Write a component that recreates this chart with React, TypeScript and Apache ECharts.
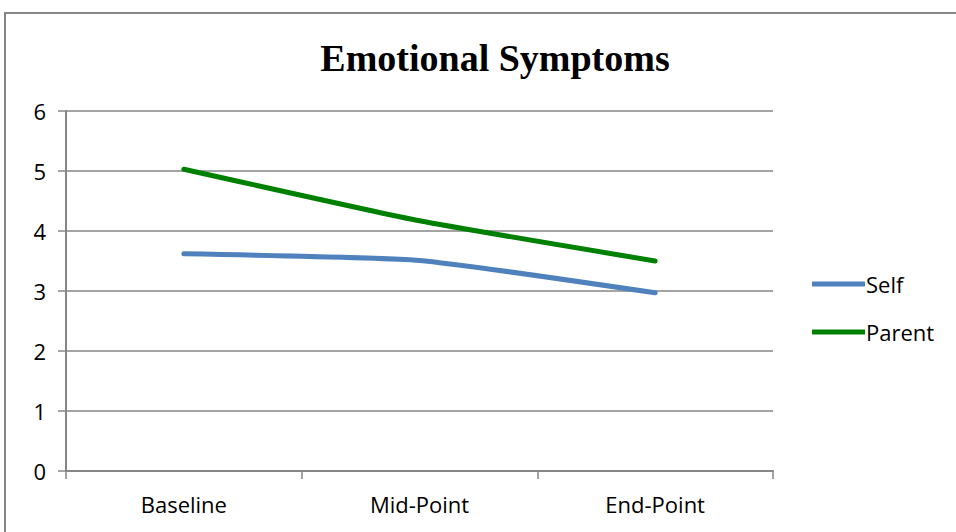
import React, { useEffect, useRef } from "react";
import * as echarts from "echarts";

const categories = ["Baseline", "Mid-Point", "End-Point"];
const selfValues = [3.62, 3.51, 2.97];
const parentValues = [5.03, 4.17, 3.5];
const seriesNames = ["Self", "Parent"];
const titleText = "Emotional Symptoms";

export default function App() {
  const ref = useRef<HTMLDivElement>(null);
  useEffect(() => {
    if (!ref.current) return;
    const chart = echarts.init(ref.current, undefined, { renderer: "svg" });
    const labelFont = "'Open Sans', 'Noto Sans', sans-serif";
    chart.setOption({
      animation: false,
      backgroundColor: "#ffffff",
      title: {
        text: titleText,
        left: 490,
        top: 34,
        textAlign: "center",
        textStyle: {
          fontFamily: "'Liberation Serif', serif",
          fontWeight: "bold",
          fontSize: 38,
          color: "#000000",
        },
      },
      graphic: [
        {
          type: "rect",
          shape: { x: 5, y: 13, width: 1000, height: 1000 },
          style: { fill: "none", stroke: "#868686", lineWidth: 2 },
          silent: true,
        },
      ],
      legend: {
        orient: "vertical",
        left: 812,
        top: 273,
        itemWidth: 53,
        itemHeight: 5,
        itemGap: 26,
        icon: "rect",
        padding: 0,
        textStyle: { fontFamily: labelFont, fontSize: 22, color: "#000", padding: [0, 0, 0, -4] },
        data: seriesNames,
      },
      grid: { left: 66, right: 183, top: 111, bottom: 61, containLabel: false },
      xAxis: {
        type: "category",
        data: categories,
        boundaryGap: true,
        axisLine: { lineStyle: { color: "#868686", width: 2 } },
        axisTick: { show: true, length: 8, lineStyle: { color: "#868686", width: 1.5 } },
        axisLabel: { fontFamily: labelFont, fontSize: 22, color: "#000", margin: 22 },
      },
      yAxis: {
        type: "value",
        min: 0,
        max: 6,
        interval: 1,
        axisLine: { show: true, lineStyle: { color: "#868686", width: 2 } },
        axisTick: { show: true, length: 8, lineStyle: { color: "#868686", width: 1.5 } },
        splitLine: { lineStyle: { color: "#868686", width: 1.5 } },
        axisLabel: { fontFamily: labelFont, fontSize: 22, color: "#000", margin: 20 },
      },
      series: [
        {
          name: seriesNames[0],
          type: "line",
          data: selfValues,
          smooth: 0.15,
          symbol: "none",
          lineStyle: { color: "#4F81BD", width: 5, cap: "round" },
          itemStyle: { color: "#4F81BD" },
        },
        {
          name: seriesNames[1],
          type: "line",
          data: parentValues,
          smooth: 0.15,
          symbol: "none",
          lineStyle: { color: "#008000", width: 5, cap: "round" },
          itemStyle: { color: "#008000" },
        },
      ],
    });
    return () => chart.dispose();
  }, []);
  return (
    <div
      ref={ref}
      style={{ position: "fixed", left: 0, top: 0, width: 956, height: 532 }}
    />
  );
}
